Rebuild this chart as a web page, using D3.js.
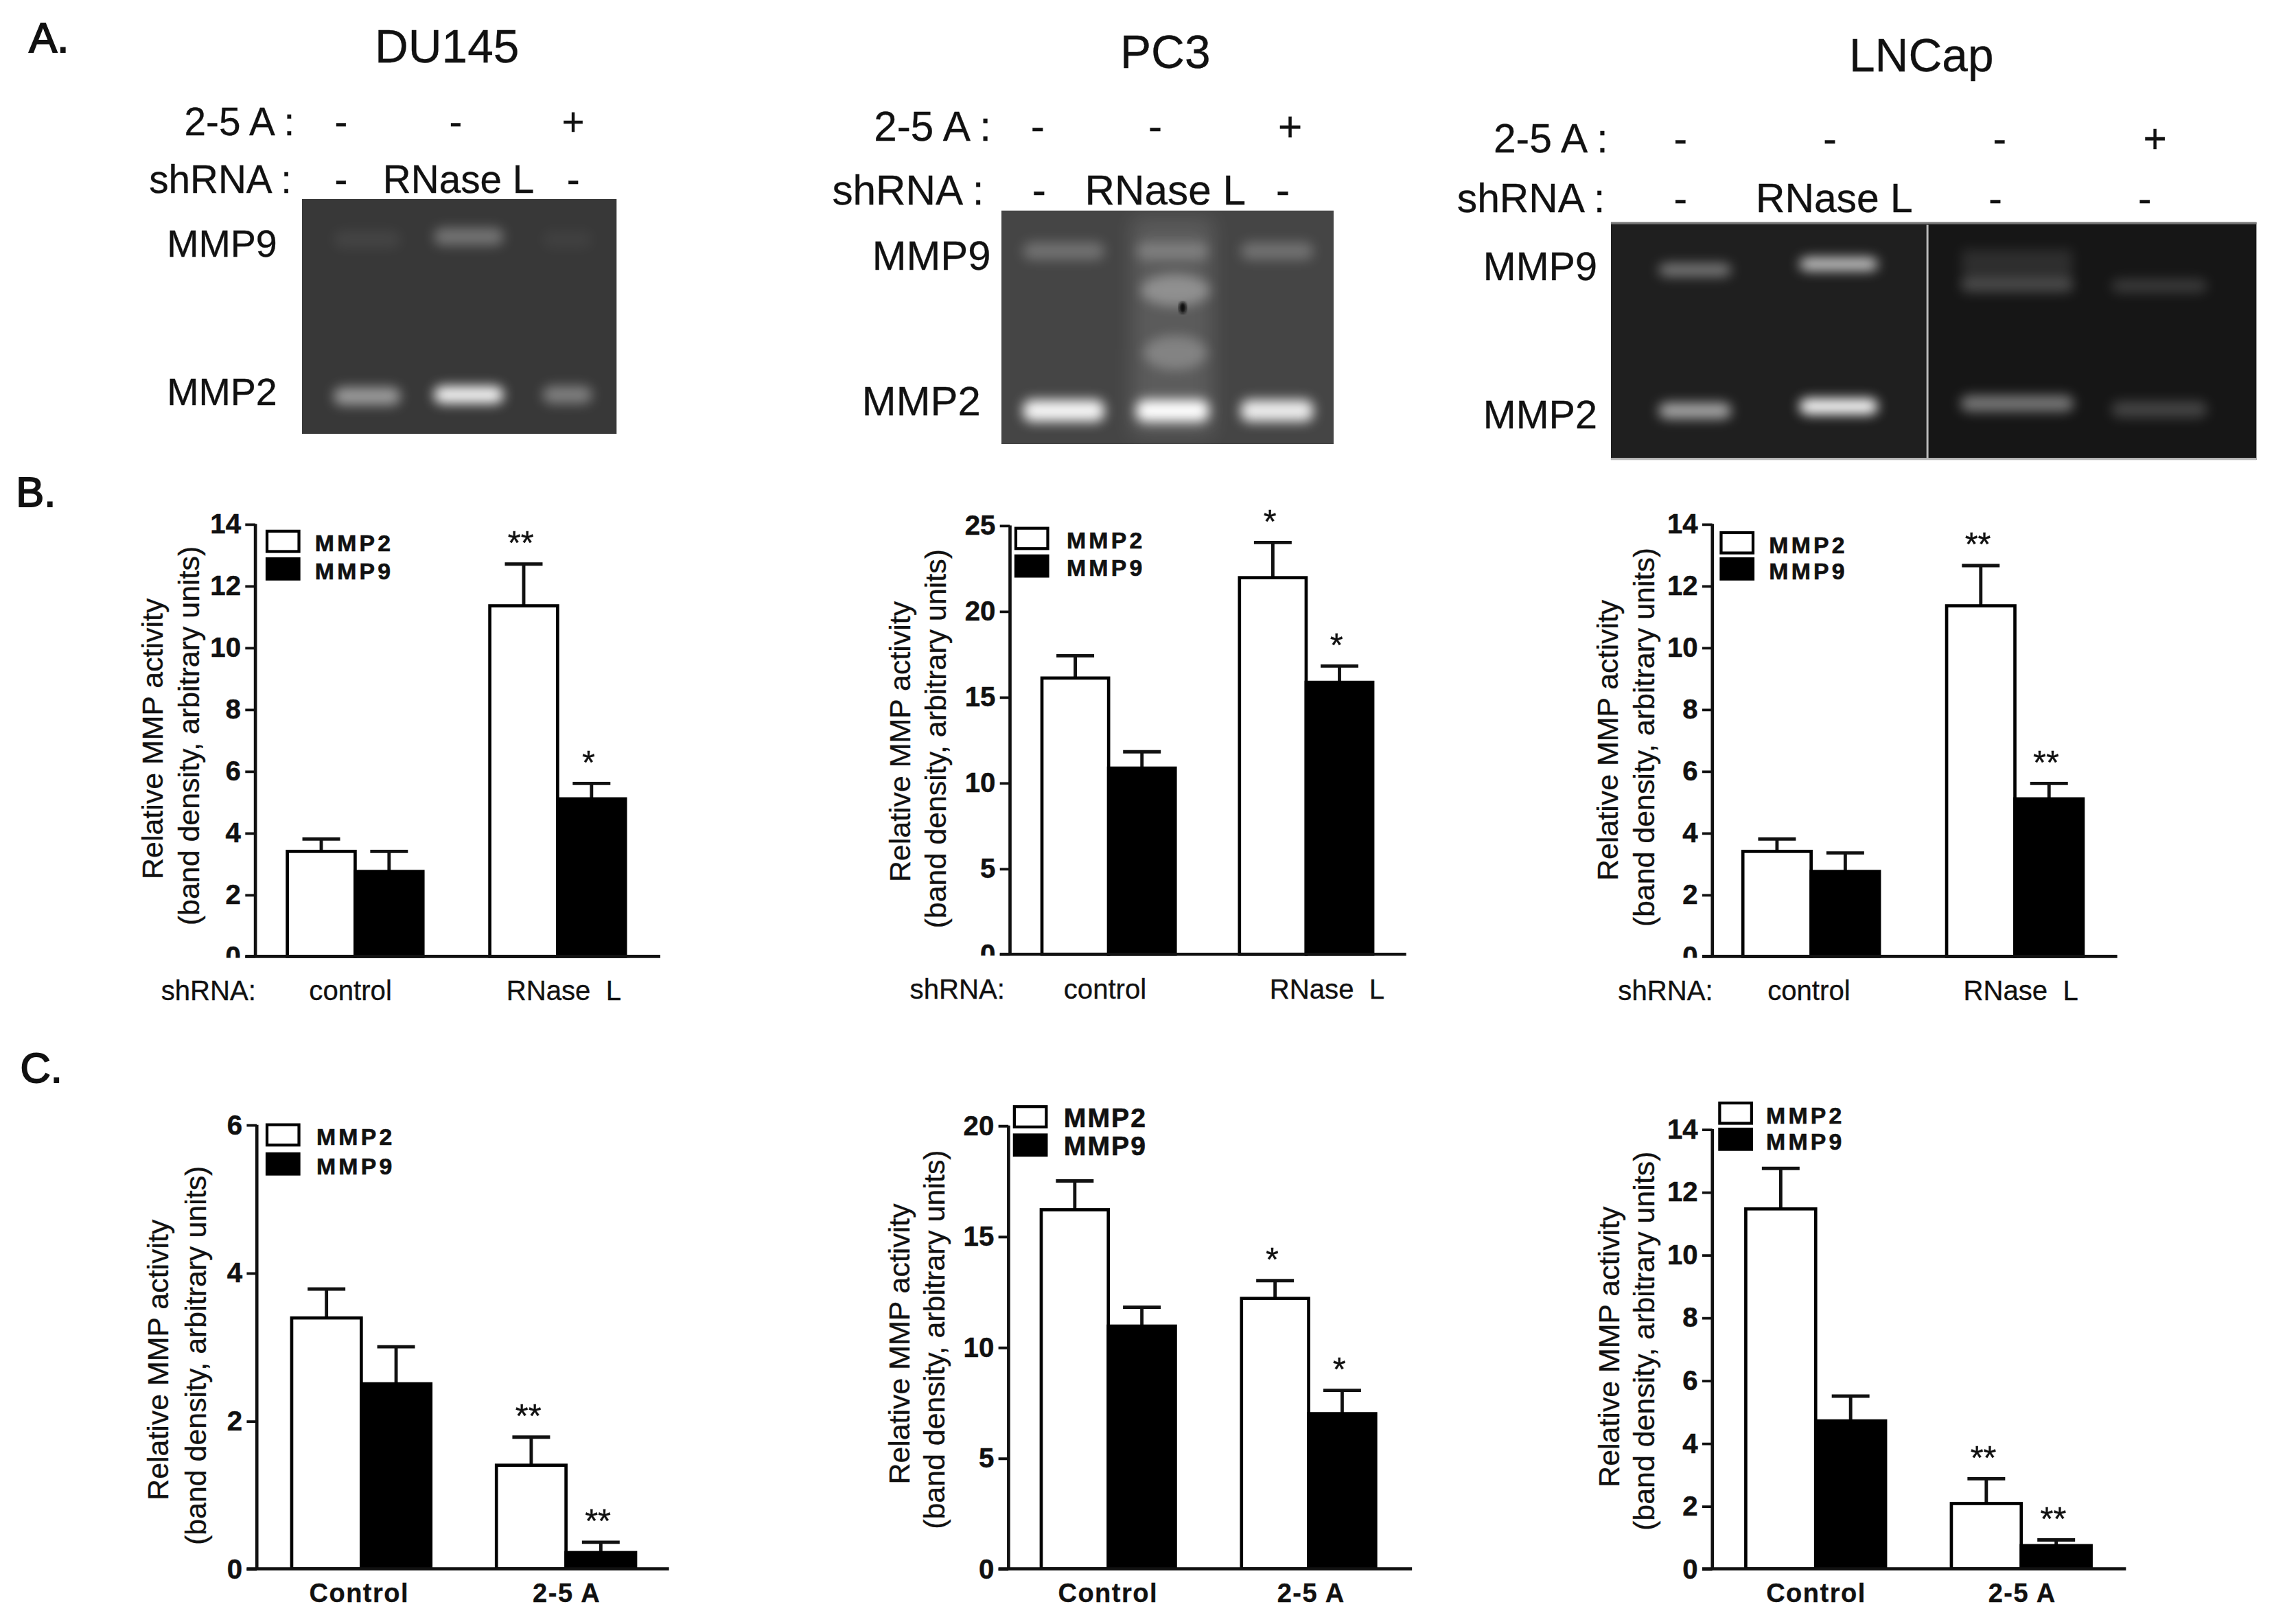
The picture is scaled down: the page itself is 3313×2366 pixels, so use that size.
<!DOCTYPE html>
<html>
<head>
<meta charset="utf-8">
<script src="https://cdnjs.cloudflare.com/ajax/libs/d3/7.8.5/d3.min.js"></script>
<style>
body { margin: 0; background: #fff; }
svg { display: block; }
text { font-family: "Liberation Sans", Arial, sans-serif; fill: #111; white-space: pre; stroke: #111; stroke-width: .15; }
.tick-y text { font-weight: bold; stroke-width: .25; }
.legend text { font-weight: bold; stroke-width: .3; }
</style>
</head>
<body>
<svg width="3313" height="2366" viewBox="0 0 1567 1119" preserveAspectRatio="none"></svg>
<script>
// series names
var seriesNames = ["MMP2", "MMP9"];

// panel B, groups and values (top of error bar kept separately)
var groupsB = ["control", "RNase  L"];
var b1Mmp2 = [3.4, 11.35], b1Mmp2Top = [3.8, 12.7];
var b1Mmp9 = [2.75, 5.1], b1Mmp9Top = [3.4, 5.6];
var b1Stars = ["", "", "**", "*"];
var b1Ticks = [0, 2, 4, 6, 8, 10, 12, 14];

var b2Mmp2 = [16.1, 21.95], b2Mmp2Top = [17.4, 24.0];
var b2Mmp9 = [10.85, 15.85], b2Mmp9Top = [11.8, 16.8];
var b2Stars = ["", "", "*", "*"];
var b2Ticks = [0, 5, 10, 15, 20, 25];

var b3Mmp2 = [3.4, 11.35], b3Mmp2Top = [3.8, 12.65];
var b3Mmp9 = [2.75, 5.1], b3Mmp9Top = [3.35, 5.6];
var b3Stars = ["", "", "**", "**"];
var b3Ticks = [0, 2, 4, 6, 8, 10, 12, 14];

// panel C
var groupsC = ["Control", "2-5 A"];
var c1Mmp2 = [3.39, 1.4], c1Mmp2Top = [3.78, 1.78];
var c1Mmp9 = [2.5, 0.22], c1Mmp9Top = [3.0, 0.36];
var c1Stars = ["", "", "**", "**"];
var c1Ticks = [0, 2, 4, 6];

var c2Mmp2 = [16.2, 12.2], c2Mmp2Top = [17.5, 13.0];
var c2Mmp9 = [10.95, 7.0], c2Mmp9Top = [11.8, 8.05];
var c2Stars = ["", "", "*", "*"];
var c2Ticks = [0, 5, 10, 15, 20];

var c3Mmp2 = [11.46, 2.08], c3Mmp2Top = [12.75, 2.87];
var c3Mmp9 = [4.71, 0.74], c3Mmp9Top = [5.5, 0.92];
var c3Stars = ["", "", "**", "**"];
var c3Ticks = [0, 2, 4, 6, 8, 10, 12, 14];

// gel band brightness per lane
var gel1Mmp9 = [0.06, 0.3, 0.04], gel1Mmp2 = [0.5, 0.95, 0.36];
var gel2Mmp9 = [0.24, 0.22, 0.24], gel2Mmp2 = [0.95, 1, 0.9];
var gel3Mmp9 = [0.4, 0.75, 0.2, 0.16], gel3Mmp2 = [0.6, 0.98, 0.42, 0.2];
var gel1Row1 = ["-", "-", "+"], gel1Row2 = ["-", "RNase L", "-"];
var gel3Row1 = ["-", "-", "-", "+"], gel3Row2 = ["-", "RNase L", "-", "-"];

var svg = d3.select("svg");
var defs = svg.append("defs");
defs.append("filter").attr("id", "blur").attr("x", "-40%").attr("y", "-150%")
  .attr("width", "180%").attr("height", "400%")
  .append("feGaussianBlur").attr("stdDeviation", 4);
defs.append("filter").attr("id", "blurWide").attr("x", "-60%").attr("y", "-100%")
  .attr("width", "220%").attr("height", "300%")
  .append("feGaussianBlur").attr("stdDeviation", 7);
defs.append("filter").attr("id", "soft").append("feGaussianBlur").attr("stdDeviation", 1);

function label(g, x, y, txt, size, anchor) {
  return g.append("text").attr("x", x).attr("y", y).attr("font-size", size)
    .attr("text-anchor", anchor || "middle").text(txt);
}

// panel letters
[["A.", 20, 36], ["B.", 11, 349], ["C.", 14, 746]].forEach(function(d) {
  label(svg, d[1], d[2], d[0], 29, "start").style("stroke-width", 0.9);
});

// ---- gels ----
function drawGel(o) {
  var g = svg.append("g");
  label(g, o.titleX, o.titleY, o.title, 32);
  label(g, o.row1Label[0], o.rowY[0], "2-5 A :", o.rowFont, "end");
  label(g, o.row2Label[0], o.rowY[1], "shRNA :", o.rowFont, "end");
  var r1 = d3.scaleOrdinal(o.lanes, o.row1X), r2 = d3.scaleOrdinal(o.lanes, o.row2X);
  o.row1.forEach(function(t, i) { label(g, r1(i), o.rowY[0], t, o.rowFont); });
  o.row2.forEach(function(t, i) { label(g, r2(i), o.rowY[1], t, o.rowFont); });
  label(g, o.mmp9Label[0], o.mmp9Label[1], "MMP9", o.markFont, "start");
  label(g, o.mmp2Label[0], o.mmp2Label[1], "MMP2", o.markFont, "start");

  var clipId = "clip" + o.title;
  defs.append("clipPath").attr("id", clipId).append("rect")
    .attr("x", o.x0).attr("y", o.y0).attr("width", o.x1 - o.x0).attr("height", o.y1 - o.y0);
  var inner = g.append("g").attr("clip-path", "url(#" + clipId + ")");
  o.backs.forEach(function(b) {
    inner.append("rect").attr("x", b[0]).attr("y", o.y0).attr("width", b[1] - b[0])
      .attr("height", o.y1 - o.y0).attr("fill", b[2]);
  });
  var laneX = d3.scaleOrdinal(o.lanes, o.laneX);
  var laneW = d3.scaleOrdinal(o.lanes, o.laneW);
  if (o.before) o.before(inner, laneX);
  [[o.mmp9, o.mmp9Y, o.bandH9], [o.mmp2, o.mmp2Y, o.bandH2]].forEach(function(row) {
    inner.selectAll(null).data(row[0]).enter().append("rect")
      .attr("x", function(d, i) { return laneX(i) - laneW(i) / 2; })
      .attr("y", function(d, i) { return row[1][i] - row[2] / 2; })
      .attr("width", function(d, i) { return laneW(i); })
      .attr("height", row[2]).attr("rx", 6)
      .attr("fill", "#fff").attr("opacity", function(d) { return d; })
      .attr("filter", "url(#blur)");
  });
  if (o.after) o.after(inner, laneX);
}

drawGel({
  title: "DU145", titleX: 308, titleY: 43, rowFont: 26.8, markFont: 26.3,
  row1Label: [203], row2Label: [201], rowY: [93, 133],
  lanes: [0, 1, 2], row1: gel1Row1, row2: gel1Row2,
  row1X: [235, 314, 395], row2X: [235, 316, 395],
  mmp9Label: [115, 177], mmp2Label: [115, 279],
  x0: 208, x1: 425, y0: 137, y1: 299, backs: [[208, 425, "#383838"]],
  laneX: [253, 323, 391], laneW: [46, 48, 34], bandH9: 12, bandH2: 12,
  mmp9: gel1Mmp9, mmp9Y: [165, 163, 165], mmp2: gel1Mmp2, mmp2Y: [273, 272, 272]
});
drawGel({
  title: "PC3", titleX: 803, titleY: 47, rowFont: 28.5, markFont: 28.3,
  row1Label: [683], row2Label: [678], rowY: [97, 141],
  lanes: [0, 1, 2], row1: gel1Row1, row2: gel1Row2,
  row1X: [715, 796, 889], row2X: [716, 803, 884],
  mmp9Label: [601, 186], mmp2Label: [594, 286],
  x0: 690, x1: 919, y0: 145, y1: 306, backs: [[690, 919, "#454545"]],
  laneX: [733, 808, 880], laneW: [56, 50, 50], bandH9: 12, bandH2: 15,
  mmp9: gel2Mmp9, mmp9Y: [173, 173, 173], mmp2: gel2Mmp2, mmp2Y: [283, 283, 283],
  before: function(inner, laneX) {
    // smear and the two extra bands in the middle lane
    inner.append("rect").attr("x", laneX(1) - 28).attr("y", 150).attr("width", 56).attr("height", 150)
      .attr("fill", "#fff").attr("opacity", 0.12).attr("filter", "url(#blurWide)");
    inner.append("ellipse").attr("cx", laneX(1) + 2).attr("cy", 200).attr("rx", 24).attr("ry", 11)
      .attr("fill", "#fff").attr("opacity", 0.32).attr("filter", "url(#blur)");
    inner.append("ellipse").attr("cx", laneX(1) + 2).attr("cy", 243).attr("rx", 22).attr("ry", 12)
      .attr("fill", "#fff").attr("opacity", 0.24).attr("filter", "url(#blur)");
  },
  after: function(inner) {
    inner.append("ellipse").attr("cx", 815).attr("cy", 212).attr("rx", 2.5).attr("ry", 4)
      .attr("fill", "#111").attr("filter", "url(#soft)");
  }
});
drawGel({
  title: "LNCap", titleX: 1324, titleY: 49, rowFont: 27.8, markFont: 27.2,
  row1Label: [1108], row2Label: [1106], rowY: [105, 146],
  lanes: [0, 1, 2, 3], row1: gel3Row1, row2: gel3Row2,
  row1X: [1158, 1261, 1378, 1485], row2X: [1158, 1264, 1375, 1478],
  mmp9Label: [1022, 193], mmp2Label: [1022, 295],
  x0: 1110, x1: 1555, y0: 153, y1: 317,
  backs: [[1110, 1328, "#1f1f1f"], [1328, 1555, "#161616"]],
  laneX: [1168, 1267, 1390, 1488], laneW: [50, 54, 78, 66], bandH9: 9, bandH2: 11,
  mmp9: gel3Mmp9, mmp9Y: [186, 182, 197, 197], mmp2: gel3Mmp2, mmp2Y: [283, 280, 278, 282],
  before: function(inner, laneX) {
    // haze above the right lane band
    inner.append("rect").attr("x", laneX(2) - 38).attr("y", 172).attr("width", 76).attr("height", 24)
      .attr("fill", "#fff").attr("opacity", 0.1).attr("filter", "url(#blur)");
  },
  after: function(inner) {
    // top and bottom rims, splice line
    inner.append("rect").attr("x", 1110).attr("y", 153).attr("width", 445).attr("height", 1.5).attr("fill", "#777");
    inner.append("rect").attr("x", 1110).attr("y", 315.5).attr("width", 445).attr("height", 1.5).attr("fill", "#bbb");
    inner.append("rect").attr("x", 1327.5).attr("y", 155).attr("width", 1.4).attr("height", 161).attr("fill", "#bbb");
  }
});

// ---- bar charts ----
function drawBars(o) {
  var g = svg.append("g");
  var y = d3.scaleLinear().domain(o.domain).range([o.y0, o.yTop]);
  var x = d3.scaleBand().domain(o.groups).range(o.barRange).paddingInner(o.gap);
  var xs = d3.scaleBand().domain(seriesNames).range([0, x.bandwidth()]);

  var rows = [];
  o.groups.forEach(function(grp, i) {
    rows.push({ g: grp, s: "MMP2", v: o.mmp2[i], top: o.mmp2Top[i], star: o.stars[i * 2] });
    rows.push({ g: grp, s: "MMP9", v: o.mmp9[i], top: o.mmp9Top[i], star: o.stars[i * 2 + 1] });
  });
  function cx(d) { return x(d.g) + xs(d.s) + xs.bandwidth() / 2; }

  // error bars sit under the bars
  g.selectAll(".err").data(rows).enter().append("line").attr("class", "err")
    .attr("x1", cx).attr("x2", cx)
    .attr("y1", function(d) { return y(d.v); }).attr("y2", function(d) { return y(d.top); })
    .attr("stroke", "#111").attr("stroke-width", 2.3);
  g.selectAll(".cap").data(rows).enter().append("line").attr("class", "cap")
    .attr("x1", function(d) { return cx(d) - 13; }).attr("x2", function(d) { return cx(d) + 13; })
    .attr("y1", function(d) { return y(d.top); }).attr("y2", function(d) { return y(d.top); })
    .attr("stroke", "#111").attr("stroke-width", 2.3);

  g.selectAll(".bar").data(rows).enter().append("rect").attr("class", "bar")
    .attr("x", function(d) { return x(d.g) + xs(d.s); })
    .attr("y", function(d) { return y(d.v); })
    .attr("width", xs.bandwidth())
    .attr("height", function(d) { return y(0) - y(d.v); })
    .attr("fill", function(d) { return d.s === "MMP2" ? "#fff" : "#000"; })
    .attr("stroke", "#000").attr("stroke-width", 2.2);

  g.selectAll(".star").data(rows.filter(function(d) { return d.star; })).enter().append("text")
    .attr("class", "star")
    .attr("x", function(d) { return cx(d) - 2; }).attr("y", function(d) { return y(d.top) + o.starDy; })
    .attr("text-anchor", "middle").attr("font-size", 23)
    .text(function(d) { return d.star; });

  // y axis; in panel B the zero label is cut off by the baseline, as in the figure
  var clipId = "axis" + o.id;
  defs.append("clipPath").attr("id", clipId).append("rect")
    .attr("x", -60).attr("y", o.yTop - 20).attr("width", 60).attr("height", o.y0 - o.yTop + (o.clipZero ? 21 : 36));
  var ya = g.append("g").attr("class", "tick-y").attr("transform", "translate(" + o.xAxis + ",0)")
    .attr("clip-path", "url(#" + clipId + ")")
    .call(d3.axisLeft(y).tickValues(o.ticks).tickFormat(d3.format("d")).tickSize(7).tickPadding(3).tickSizeOuter(0));
  ya.selectAll("text").attr("font-size", 19);
  ya.selectAll("line").attr("stroke", "#111").attr("stroke-width", 1.8);
  ya.select(".domain").remove();
  g.append("line").attr("x1", o.xAxis).attr("x2", o.xAxis).attr("y1", y.range()[1]).attr("y2", y(0))
    .attr("stroke", "#111").attr("stroke-width", 2.2);
  g.append("line").attr("x1", o.xAxis - 7).attr("x2", o.xRight).attr("y1", y(0)).attr("y2", y(0))
    .attr("stroke", "#111").attr("stroke-width", 2.2);

  // x group labels
  var xl = d3.scalePoint().domain(o.groups).range(o.labelX);
  var xa = g.append("g").attr("transform", "translate(0," + o.labelY + ")")
    .call(d3.axisBottom(xl).tickSize(0).tickPadding(0));
  xa.select(".domain").remove();
  xa.selectAll("text").attr("font-size", o.labelBold ? 18 : 19).attr("dy", 0)
    .attr("font-weight", o.labelBold ? "bold" : "normal")
    .attr("letter-spacing", o.labelBold ? 0.7 : 0)
    .attr("y", 0);
  if (o.prefix) label(g, o.prefix[0], o.labelY, "shRNA:", 19, "start");

  // y title
  var t1 = o.ylabel[0], t2 = o.ylabel[1];
  g.append("text").attr("transform", "translate(" + t1[0] + "," + t1[1] + ") rotate(-90)")
    .attr("text-anchor", "middle").attr("font-size", 20.3).text("Relative MMP activity");
  g.append("text").attr("transform", "translate(" + t2[0] + "," + t2[1] + ") rotate(-90)")
    .attr("text-anchor", "middle").attr("font-size", 20.3).text("(band density, arbitrary units)");

  // legend
  var lg = g.append("g").attr("class", "legend");
  seriesNames.forEach(function(s, i) {
    lg.append("rect").attr("x", o.legendX).attr("y", o.legendY[i] - o.swatchH)
      .attr("width", 22).attr("height", o.swatchH)
      .attr("fill", i ? "#000" : "#fff").attr("stroke", "#000").attr("stroke-width", 2);
    lg.append("text").attr("x", o.legendTextX).attr("y", o.legendY[i])
      .attr("font-size", o.legendFont || 16).attr("letter-spacing", o.legendSpace === undefined ? 2 : o.legendSpace).text(s);
  });
}

drawBars({ id: "b1", groups: groupsB, mmp2: b1Mmp2, mmp2Top: b1Mmp2Top, mmp9: b1Mmp9, mmp9Top: b1Mmp9Top,
  stars: b1Stars, ticks: b1Ticks, domain: [0, 14], y0: 659, yTop: 361, xAxis: 176, xRight: 455, clipZero: true,
  barRange: [198, 431], gap: 0.33, starDy: -7, labelX: [241, 388], labelY: 689, prefix: [111],
  ylabel: [[112, 509], [137, 507]], legendX: 184, legendTextX: 217, legendY: [380, 399], swatchH: 14 });
drawBars({ id: "b2", groups: groupsB, mmp2: b2Mmp2, mmp2Top: b2Mmp2Top, mmp9: b2Mmp9, mmp9Top: b2Mmp9Top,
  stars: b2Stars, ticks: b2Ticks, domain: [0, 25], y0: 657.5, yTop: 362, xAxis: 696, xRight: 969, clipZero: true,
  barRange: [718, 946], gap: 0.325, starDy: -7, labelX: [761, 914], labelY: 688, prefix: [627],
  ylabel: [[627, 511], [652, 509]], legendX: 700, legendTextX: 735, legendY: [378, 397], swatchH: 14 });
drawBars({ id: "b3", groups: groupsB, mmp2: b3Mmp2, mmp2Top: b3Mmp2Top, mmp9: b3Mmp9, mmp9Top: b3Mmp9Top,
  stars: b3Stars, ticks: b3Ticks, domain: [0, 14], y0: 659, yTop: 361, xAxis: 1180, xRight: 1459, clipZero: true,
  barRange: [1201, 1435.5], gap: 0.33, starDy: -7, labelX: [1246, 1392], labelY: 689, prefix: [1115],
  ylabel: [[1115, 510], [1140, 508]], legendX: 1186, legendTextX: 1219, legendY: [381, 399], swatchH: 14 });
drawBars({ id: "c1", groups: groupsC, mmp2: c1Mmp2, mmp2Top: c1Mmp2Top, mmp9: c1Mmp9, mmp9Top: c1Mmp9Top,
  stars: c1Stars, ticks: c1Ticks, domain: [0, 6], y0: 1081, yTop: 775, xAxis: 177, xRight: 461,
  barRange: [201, 438], gap: 0.32, starDy: -7, labelX: [247, 390], labelY: 1104, labelBold: true,
  ylabel: [[116, 937], [142, 934]], legendX: 184, legendTextX: 218, legendY: [789, 809], swatchH: 14 });
drawBars({ id: "c2", groups: groupsC, mmp2: c2Mmp2, mmp2Top: c2Mmp2Top, mmp9: c2Mmp9, mmp9Top: c2Mmp9Top,
  stars: c2Stars, ticks: c2Ticks, domain: [0, 20], y0: 1081, yTop: 775.5, xAxis: 695, xRight: 973,
  barRange: [717.5, 948], gap: 0.33, starDy: -7, labelX: [763, 903], labelY: 1104, labelBold: true,
  ylabel: [[626.5, 926], [651, 923]], legendX: 699, legendTextX: 733, legendY: [776.5, 796], swatchH: 14,
  legendFont: 18.5, legendSpace: 1 });
drawBars({ id: "c3", groups: groupsC, mmp2: c3Mmp2, mmp2Top: c3Mmp2Top, mmp9: c3Mmp9, mmp9Top: c3Mmp9Top,
  stars: c3Stars, ticks: c3Ticks, domain: [0, 14], y0: 1081, yTop: 778, xAxis: 1180, xRight: 1465,
  barRange: [1203, 1441], gap: 0.32, starDy: -7, labelX: [1251, 1393], labelY: 1104, labelBold: true,
  ylabel: [[1116, 928], [1140, 924]], legendX: 1185, legendTextX: 1217, legendY: [774, 792], swatchH: 14 });
</script>
</body>
</html>
